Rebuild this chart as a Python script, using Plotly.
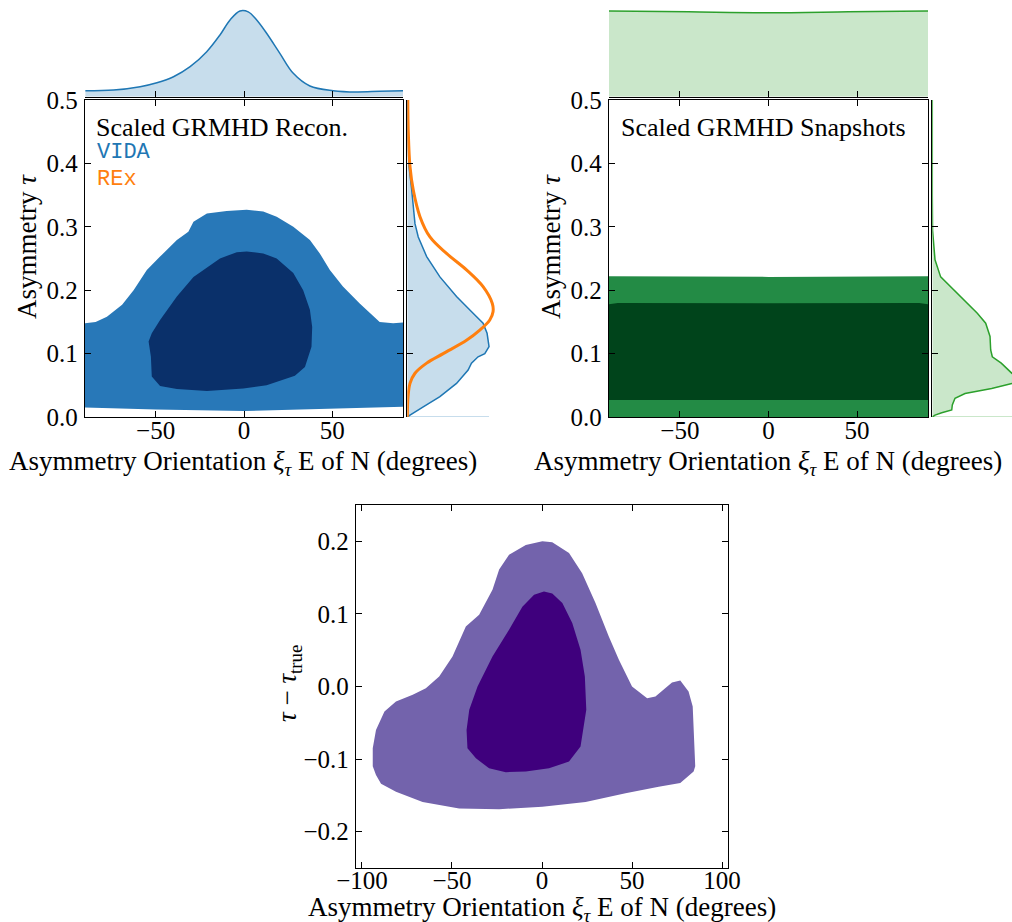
import plotly.graph_objects as go

W, H = 1012, 922
SERIF = "Liberation Serif"
MONO = "Liberation Mono"

# ---------------- data ----------------
# Scaled GRMHD reconstructions (VIDA): 2-sigma / 1-sigma credible regions
vida_outer_xi = [-90, -84, -77.6, -69, -62.5, -55, -47.5, -38, -31.5, -28.6, -21, -9.8, 1.5, 10.9,
                 18.5, 27.9, 37.3, 42.9, 48.6, 56, 65.5, 76.8, 84.4, 90,
                 90, 50, 0, -50, -90]
vida_outer_tau = [0.148, 0.150, 0.158, 0.177, 0.200, 0.232, 0.253, 0.279, 0.292, 0.308, 0.321, 0.325,
                  0.327, 0.324, 0.316, 0.300, 0.279, 0.258, 0.232, 0.206, 0.179, 0.150, 0.148, 0.149,
                  0.016, 0.013, 0.0095, 0.012, 0.015]
vida_inner_xi = [-54, -52.7, -52.2, -47.5, -38, -21, -0.4, 12.8, 28.8, 34.5, 38.2, 38.6, 37.3, 33.5,
                 27.9, 18.5, 10.9, 1.5, -4.1, -13.6, -28.6, -38, -47.5, -52.2]
vida_inner_tau = [0.119, 0.095, 0.064, 0.049, 0.044, 0.041, 0.045, 0.050, 0.065, 0.079, 0.111, 0.142,
                  0.169, 0.200, 0.227, 0.250, 0.258, 0.261, 0.260, 0.250, 0.221, 0.190, 0.153, 0.132]

# marginal density of orientation (VIDA)
vida_xi_grid = [-89.8, -73.8, -58.8, -49.3, -39.9, -30.5, -21.1, -13.6, -7.9, -2.3, 2.4, 7.2, 12.8,
                20.3, 27.9, 37.3, 50.5, 63.7, 76.8, 90]
vida_xi_density = [0.070, 0.078, 0.117, 0.163, 0.233, 0.350, 0.525, 0.72, 0.895, 1.0, 0.99, 0.895,
                   0.74, 0.506, 0.273, 0.125, 0.070, 0.055, 0.063, 0.070]

# marginal densities of asymmetry (VIDA and REx)
vida_tau_grid = [0.0, 0.003, 0.016, 0.032, 0.053, 0.074, 0.085, 0.095, 0.100, 0.111, 0.132, 0.148,
                 0.1635, 0.190, 0.221, 0.253, 0.284, 0.305, 0.358, 0.395, 0.45, 0.5]
vida_tau_density = [0.0, 0.033, 0.195, 0.399, 0.602, 0.744, 0.785, 0.866, 0.948, 1.0, 0.976, 0.927,
                    0.805, 0.602, 0.399, 0.237, 0.134, 0.094, 0.054, 0.021, 0.008, 0.006]
rex_tau_grid = [0.0, 0.032, 0.053, 0.069, 0.085, 0.100, 0.121, 0.137, 0.153, 0.166, 0.179, 0.2055,
                0.232, 0.258, 0.284, 0.316, 0.358, 0.395, 0.45, 0.5]
rex_tau_density = [0.0, 0.009, 0.033, 0.094, 0.237, 0.439, 0.724, 0.887, 1.009, 1.049, 1.040, 0.927,
                   0.724, 0.480, 0.277, 0.155, 0.073, 0.033, 0.012, 0.006]

# Scaled GRMHD snapshots
snap_outer_xi = [-90, 0, 90, 90, -90]
snap_outer_tau = [0.222, 0.221, 0.222, 0.0, 0.0]
snap_inner_xi = [-90, -85, 0, 85, 90, 90, -90]
snap_inner_tau = [0.178, 0.180, 0.1795, 0.180, 0.178, 0.027, 0.027]

snap_xi_grid = [-90, -45, 0, 45, 90]
snap_xi_density = [1.0, 0.99, 0.98, 0.99, 1.0]

snap_tau_grid = [0.0, 0.003, 0.0068, 0.011, 0.019, 0.0295, 0.037, 0.045, 0.053, 0.061, 0.069, 0.085,
                 0.095, 0.1057, 0.127, 0.148, 0.1635, 0.1845, 0.2055, 0.221, 0.248, 0.295, 0.35, 0.5]
snap_tau_density = [0.0, 0.033, 0.115, 0.237, 0.244, 0.277, 0.399, 0.724, 0.97, 1.12, 0.97, 0.841,
                    0.732, 0.712, 0.704, 0.651, 0.549, 0.387, 0.224, 0.102, 0.033, 0.003, 0.0, 0.0]

# Residual tau - tau_true
res_outer_xi = [-94.0, -94.0, -92.2, -87.5, -81.1, -71.8, -64.5, -57.1, -49.7, -42.3, -34.9, -27.5,
                -23.8, -18.3, -9.0, 0.2, 5.7, 15.0, 22.3, 29.7, 37.1, 42.7, 50.0, 58.4, 63.0, 67.6,
                72.2, 76.8, 81.4, 83.7, 85.1, 84.2, 76.8, 64.8, 46.4, 24.2, 0.2, -23.8, -46.0, -66.3,
                -81.1, -89.4, -92.2]
res_outer_dtau = [-0.110, -0.085, -0.060, -0.0345, -0.0207, -0.0115, -0.0023, 0.0138, 0.0414, 0.0828,
                  0.0989, 0.1333, 0.161, 0.1816, 0.195, 0.200, 0.1986, 0.184, 0.156, 0.115, 0.069,
                  0.0368, 0.0, -0.0161, -0.0138, -0.0046, 0.0055, 0.0083, -0.0069, -0.0276, -0.110,
                  -0.117, -0.133, -0.138, -0.147, -0.159, -0.1655, -0.169, -0.168, -0.159, -0.145,
                  -0.134, -0.1218]
res_inner_xi = [-41.4, -41.9, -40.4, -35.8, -27.5, -18.3, -10.9, -4.4, 1.1, 5.7, 11.3, 16.8, 21.4,
                23.8, 24.6, 21.4, 15.0, 3.9, -9.0, -20.1, -29.4, -36.7]
res_inner_dtau = [-0.085, -0.060, -0.032, 0.0, 0.0414, 0.078, 0.110, 0.1264, 0.131, 0.128, 0.115,
                  0.0874, 0.0506, 0.0138, -0.032, -0.0828, -0.1034, -0.1126, -0.117, -0.118, -0.1126,
                  -0.0989]

xi_ticks = [-50, 0, 50]
tau_ticks = [0.0, 0.1, 0.2, 0.3, 0.4, 0.5]
res_xi_ticks = [-100, -50, 0, 50, 100]
res_tau_ticks = [-0.2, -0.1, 0.0, 0.1, 0.2]

# ---------------- colours ----------------
BLUE, ORANGE, GREEN = "#1f77b4", "#ff7f0e", "#2ca02c"
BLUE_FILL, GREEN_FILL = "rgba(31,119,180,0.25)", "rgba(44,160,44,0.25)"


def px_x(p):
    return p / W


def px_y(p):
    return 1 - p / H


fig = go.Figure()


def poly(xs, ys, color, xa, ya):
    fig.add_trace(go.Scatter(x=xs, y=ys, fill="toself", fillcolor=color, mode="lines",
                             line=dict(width=0, color=color), xaxis=xa, yaxis=ya,
                             hoverinfo="skip", showlegend=False))


# panel 1 : reconstructions
poly(vida_outer_xi, vida_outer_tau, "#2878b8", "x", "y")
poly(vida_inner_xi, vida_inner_tau, "#0a306a", "x", "y")
fig.add_trace(go.Scatter(x=vida_xi_grid, y=vida_xi_density, mode="lines", fill="tozeroy",
                         fillcolor=BLUE_FILL, line=dict(color=BLUE, width=1.5, shape="spline"),
                         xaxis="x2", yaxis="y2", showlegend=False))
fig.add_trace(go.Scatter(x=[0, max(vida_tau_density)], y=[0, 0], mode="lines",
                         line=dict(color=BLUE_FILL, width=2), xaxis="x3", yaxis="y3",
                         showlegend=False))
fig.add_trace(go.Scatter(x=vida_tau_density, y=vida_tau_grid, mode="lines", fill="tozerox",
                         fillcolor=BLUE_FILL, line=dict(color=BLUE, width=1.5),
                         xaxis="x3", yaxis="y3", showlegend=False))
fig.add_trace(go.Scatter(x=rex_tau_density, y=rex_tau_grid, mode="lines",
                         line=dict(color=ORANGE, width=3, shape="spline"),
                         xaxis="x3", yaxis="y3", showlegend=False))

# panel 2 : snapshots
poly(snap_outer_xi, snap_outer_tau, "#238b45", "x4", "y4")
poly(snap_inner_xi, snap_inner_tau, "#00441b", "x4", "y4")
fig.add_trace(go.Scatter(x=snap_xi_grid, y=snap_xi_density, mode="lines", fill="tozeroy",
                         fillcolor=GREEN_FILL, line=dict(color=GREEN, width=1.5, shape="spline"),
                         xaxis="x5", yaxis="y5", showlegend=False))
fig.add_trace(go.Scatter(x=[0, max(snap_tau_density)], y=[0, 0], mode="lines",
                         line=dict(color=GREEN_FILL, width=2), xaxis="x6", yaxis="y6",
                         showlegend=False))
fig.add_trace(go.Scatter(x=snap_tau_density, y=snap_tau_grid, mode="lines", fill="tozerox",
                         fillcolor=GREEN_FILL, line=dict(color=GREEN, width=1.5),
                         xaxis="x6", yaxis="y6", showlegend=False))

# panel 3 : residuals
poly(res_outer_xi, res_outer_dtau, "#7363ac", "x7", "y7")
poly(res_inner_xi, res_inner_dtau, "#3f007d", "x7", "y7")

# ---------------- axes ----------------
tickfont = dict(family=SERIF, size=25, color="black")
main = dict(showline=True, linecolor="black", linewidth=1.3, mirror="ticks", ticks="inside",
            ticklen=6, tickwidth=1.2, tickcolor="black", showgrid=False, zeroline=False,
            tickfont=tickfont, fixedrange=True, automargin=False)
hidden = dict(visible=False, fixedrange=True, automargin=False)
spine = dict(showline=True, linecolor="black", linewidth=1.3, ticks="inside", ticklen=6,
             tickwidth=1.2, tickcolor="black", showticklabels=False, showgrid=False,
             zeroline=False, fixedrange=True, automargin=False)
XSTAND = -9

main_top, main_bot = 100, 417
layout = dict(
    width=W, height=H, margin=dict(l=0, r=0, t=0, b=0, pad=0), autosize=False,
    paper_bgcolor="white", plot_bgcolor="white",
    # panel 1
    xaxis=dict(main, domain=[px_x(85), px_x(403)], range=[-90, 90], tickvals=xi_ticks,
               ticklabelstandoff=XSTAND, anchor="y"),
    yaxis=dict(main, domain=[px_y(main_bot), px_y(main_top)], range=[0, 0.5],
               tickvals=tau_ticks, tickformat=".1f", ticklabelstandoff=1, anchor="x"),
    xaxis2=dict(spine, domain=[px_x(85), px_x(403)], range=[-90, 90], tickvals=xi_ticks,
                anchor="y2"),
    yaxis2=dict(hidden, domain=[px_y(96.7), 1], range=[0, 1.128], anchor="x2"),
    xaxis3=dict(hidden, domain=[px_x(407.3), px_x(504)], range=[0, 1.183], anchor="y3"),
    yaxis3=dict(spine, domain=[px_y(main_bot), px_y(main_top)], range=[0, 0.5],
                tickvals=tau_ticks, anchor="x3"),
    # panel 2
    xaxis4=dict(main, domain=[px_x(609), px_x(928)], range=[-90, 90], tickvals=xi_ticks,
                ticklabelstandoff=XSTAND, anchor="y4"),
    yaxis4=dict(main, domain=[px_y(main_bot), px_y(main_top)], range=[0, 0.5],
                tickvals=tau_ticks, tickformat=".1f", ticklabelstandoff=1, anchor="x4"),
    xaxis5=dict(spine, domain=[px_x(609), px_x(928)], range=[-90, 90], tickvals=xi_ticks,
                anchor="y5"),
    yaxis5=dict(hidden, domain=[px_y(96.7), 1], range=[0, 1.128], anchor="x5"),
    xaxis6=dict(hidden, domain=[px_x(932.3), 1], range=[0, 79.7 / 82], anchor="y6"),
    yaxis6=dict(spine, domain=[px_y(main_bot), px_y(main_top)], range=[0, 0.5],
                tickvals=tau_ticks, anchor="x6"),
    # panel 3
    xaxis7=dict(main, domain=[px_x(356), px_x(728)], range=[-103.3, 103.3],
                tickvals=res_xi_ticks, ticklabelstandoff=-10, anchor="y7"),
    yaxis7=dict(main, domain=[px_y(868), px_y(505)], range=[-0.25, 0.25],
                tickvals=res_tau_ticks, tickformat=".1f", ticklabelstandoff=1, anchor="x7"),
)
fig.update_layout(**layout)

# ---------------- text ----------------
title_font = dict(family=SERIF, size=27, color="black")
x_title = "Asymmetry Orientation <i>ξ</i><sub><i>τ</i></sub> E of N (degrees)"
annots = [
    dict(x=px_x(243), y=px_y(463), text=x_title, textangle=0),
    dict(x=px_x(768), y=px_y(463), text=x_title, textangle=0),
    dict(x=px_x(542), y=px_y(909), text=x_title, textangle=0),
    dict(x=px_x(27), y=px_y(247), text="Asymmetry <i>τ</i>", textangle=-90),
    dict(x=px_x(551), y=px_y(247), text="Asymmetry <i>τ</i>", textangle=-90),
    dict(x=px_x(289), y=px_y(684), text="<i>τ</i> − <i>τ</i><sub>true</sub>", textangle=-90),
]
for a in annots:
    fig.add_annotation(xref="paper", yref="paper", showarrow=False, font=title_font,
                       xanchor="center", yanchor="middle", **a)

fig.add_annotation(xref="paper", yref="paper", x=px_x(94), y=px_y(128), xanchor="left",
                   yanchor="middle", showarrow=False, text="Scaled GRMHD Recon.",
                   font=dict(family=SERIF, size=26, color="black"))
fig.add_annotation(xref="paper", yref="paper", x=px_x(95), y=px_y(153), xanchor="left",
                   yanchor="middle", showarrow=False, text="VIDA",
                   font=dict(family=MONO, size=22, color=BLUE))
fig.add_annotation(xref="paper", yref="paper", x=px_x(95), y=px_y(179), xanchor="left",
                   yanchor="middle", showarrow=False, text="REx",
                   font=dict(family=MONO, size=22, color=ORANGE))
fig.add_annotation(xref="paper", yref="paper", x=px_x(619), y=px_y(128), xanchor="left",
                   yanchor="middle", showarrow=False, text="Scaled GRMHD Snapshots",
                   font=dict(family=SERIF, size=26, color="black"))

fig.write_html("out.html")
